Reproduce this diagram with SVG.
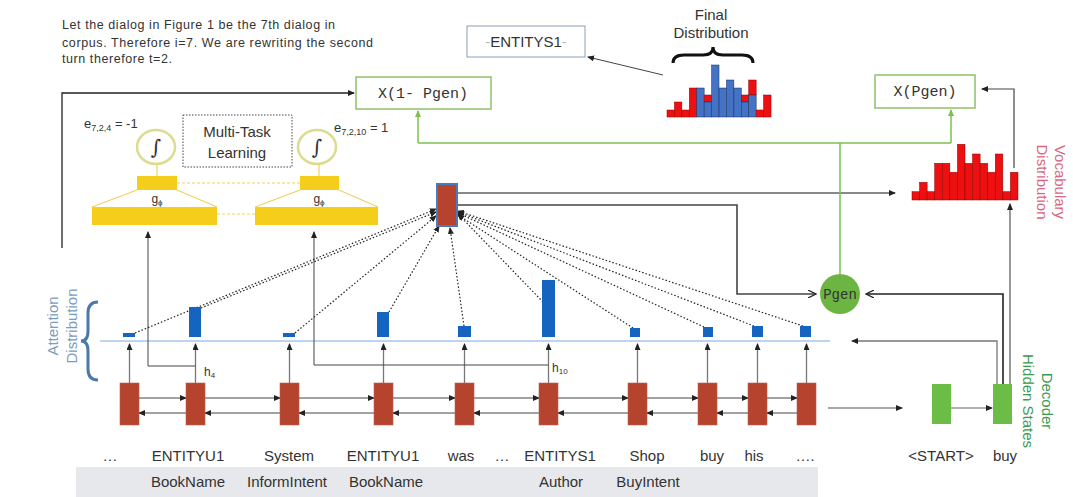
<svg xmlns="http://www.w3.org/2000/svg" width="1073" height="497" viewBox="0 0 1073 497">
<style>
text{font-family:"Liberation Sans",Arial,sans-serif;fill:#333}
.lbl{font-size:15px;text-anchor:middle}
.mono{font-family:"Liberation Mono","Courier New",monospace;font-size:15px;fill:#333;text-anchor:middle}
.enc{fill:#b5432e;stroke:#c0604a;stroke-width:0.6}
.dec{fill:#6cbd45}
.bar{fill:#1565c0}
.ar{stroke:#444;stroke-width:1;fill:none}
.up{stroke:#777;stroke-width:1.3;fill:none}
.dot{stroke:#222;stroke-width:1.2;stroke-dasharray:1.5 2;fill:none}
.grn{stroke:#7cc04f;stroke-width:1.5;fill:none}
.gold{fill:#f5cd1b}
.vr{fill:#ee1010;stroke:#8a0000;stroke-width:0.5}
.vb{fill:#4472c4;stroke:#1a2f60;stroke-width:0.5}
</style>
<defs>
<marker id="ah" markerWidth="7" markerHeight="6" refX="6" refY="3" orient="auto" markerUnits="userSpaceOnUse"><path d="M0,0 L7,3 L0,6 z" fill="#222"/></marker>
<marker id="ahg" markerWidth="7" markerHeight="6" refX="6" refY="3" orient="auto" markerUnits="userSpaceOnUse"><path d="M0,0 L7,3 L0,6 z" fill="#7cc04f"/></marker>
<marker id="ao" markerWidth="9" markerHeight="8" refX="8" refY="4" orient="auto" markerUnits="userSpaceOnUse"><path d="M0,0 L8,4 L0,8" fill="none" stroke="#222" stroke-width="1.2"/></marker>
</defs>

<g id="note">
<text x="62" y="29" font-size="12.5" textLength="273" lengthAdjust="spacing">Let the dialog in Figure 1 be the 7th dialog in</text>
<text x="62" y="47" font-size="12.5" textLength="311" lengthAdjust="spacing">corpus. Therefore i=7. We are rewriting the second</text>
<text x="62" y="63" font-size="12.5" textLength="110" lengthAdjust="spacing">turn therefore t=2.</text>
</g>

<g id="band">
<rect x="76" y="467" width="742" height="30" fill="#e6e8ec"/>
<text class="lbl" x="188" y="487">BookName</text>
<text class="lbl" x="287" y="487">InformIntent</text>
<text class="lbl" x="386" y="487">BookName</text>
<text class="lbl" x="561" y="487">Author</text>
<text class="lbl" x="648" y="487">BuyIntent</text>
</g>

<g id="tokens">
<text class="lbl" x="110" y="461">…</text>
<text class="lbl" x="188" y="461">ENTITYU1</text>
<text class="lbl" x="289" y="461">System</text>
<text class="lbl" x="383" y="461">ENTITYU1</text>
<text class="lbl" x="461" y="461">was</text>
<text class="lbl" x="502" y="461">…</text>
<text class="lbl" x="560" y="461">ENTITYS1</text>
<text class="lbl" x="647" y="461">Shop</text>
<text class="lbl" x="712" y="461">buy</text>
<text class="lbl" x="754" y="461">his</text>
<text class="lbl" x="805" y="461">….</text>
<text class="lbl" x="941" y="461">&lt;START&gt;</text>
<text class="lbl" x="1005" y="461">buy</text>
</g>

<g id="side-labels">
<text class="lbl" transform="translate(58,326) rotate(-90)" style="fill:#7a9cc0">Attention</text>
<text class="lbl" transform="translate(77,326) rotate(-90)" style="fill:#7a9cc0">Distribution</text>
<path d="M98,302 Q88,302 88,313 L88,331 Q88,341 81,341 Q88,341 88,351 L88,369 Q88,380 98,380" fill="none" stroke="#4d79a8" stroke-width="3"/>
<text class="lbl" font-size="16" transform="translate(1042,401) rotate(90)" style="fill:#3a9a50">Decoder</text>
<text class="lbl" font-size="16" transform="translate(1023,401) rotate(90)" style="fill:#3a9a50">Hidden States</text>
<text class="lbl" font-size="16" transform="translate(1055,182) rotate(90)" style="fill:#d9667f">Vocabulary</text>
<text class="lbl" font-size="16" transform="translate(1037,182) rotate(90)" style="fill:#d9667f">Distribution</text>
</g>

<g id="connectors">
<g class="ar" marker-end="url(#ah)">
<line x1="139" y1="398" x2="186" y2="398"/><line x1="205" y1="398" x2="280" y2="398"/><line x1="299" y1="398" x2="374" y2="398"/><line x1="393" y1="398" x2="455" y2="398"/><line x1="474" y1="398" x2="539" y2="398"/><line x1="558" y1="398" x2="628" y2="398"/><line x1="647" y1="398" x2="698" y2="398"/><line x1="717" y1="398" x2="748" y2="398"/><line x1="767" y1="398" x2="797" y2="398"/>
<line x1="186" y1="413" x2="139" y2="413"/><line x1="280" y1="413" x2="205" y2="413"/><line x1="374" y1="413" x2="299" y2="413"/><line x1="455" y1="413" x2="393" y2="413"/><line x1="539" y1="413" x2="474" y2="413"/><line x1="628" y1="413" x2="558" y2="413"/><line x1="698" y1="413" x2="647" y2="413"/><line x1="748" y1="413" x2="717" y2="413"/><line x1="797" y1="413" x2="767" y2="413"/>
</g>
<g class="up" marker-end="url(#ah)">
<line x1="129.5" y1="383" x2="129.5" y2="344"/><line x1="195.5" y1="383" x2="195.5" y2="344"/><line x1="289.5" y1="383" x2="289.5" y2="344"/><line x1="383.5" y1="383" x2="383.5" y2="344"/><line x1="464.5" y1="383" x2="464.5" y2="344"/><line x1="548.5" y1="383" x2="548.5" y2="344"/><line x1="637.5" y1="383" x2="637.5" y2="344"/><line x1="707.5" y1="383" x2="707.5" y2="344"/><line x1="757.5" y1="383" x2="757.5" y2="344"/><line x1="806.5" y1="383" x2="806.5" y2="344"/>
</g>
<line x1="100" y1="341" x2="830" y2="341" stroke="#a9c6ea" stroke-width="1.5"/>
<path d="M195.5,366 L148,366 L148,232" class="ar" marker-end="url(#ah)"/>
<path d="M548.5,365 L314,365 L314,232" class="ar" marker-end="url(#ah)"/>
<path d="M62,248 L62,93 L354,93" stroke="#222" stroke-width="1.3" fill="none" marker-end="url(#ah)"/>
<g class="dot" marker-end="url(#ah)">
<line x1="135" y1="333" x2="436" y2="209"/>
<line x1="201" y1="308" x2="436" y2="212"/>
<line x1="295" y1="333" x2="436" y2="216"/>
<line x1="389" y1="312" x2="439" y2="226"/>
<line x1="464" y1="326" x2="450" y2="228"/>
<line x1="543" y1="302" x2="458" y2="214"/>
<line x1="633" y1="328" x2="458" y2="215"/>
<line x1="704" y1="327" x2="458" y2="213"/>
<line x1="754" y1="326" x2="458" y2="212"/>
<line x1="803" y1="326" x2="458" y2="211"/>
</g>
<line x1="457" y1="193" x2="895" y2="193" stroke="#888" stroke-width="2" marker-end="url(#ah)"/>
<path d="M457,205 L737,205 L737,294 L816,294" stroke="#444" stroke-width="1.6" fill="none" marker-end="url(#ao)"/>
<path d="M840,274 L840,143" class="grn"/>
<line x1="418" y1="143" x2="951" y2="143" class="grn"/>
<line x1="418" y1="143" x2="418" y2="111" class="grn" marker-end="url(#ahg)"/>
<line x1="951" y1="143" x2="951" y2="110" class="grn" marker-end="url(#ahg)"/>
<path d="M1014,168 L1014,89 L982,89" stroke="#444" stroke-width="1.2" fill="none" marker-end="url(#ah)"/>
<path d="M997,384 L997,341 L852,341" stroke="#777" stroke-width="1.3" fill="none" marker-end="url(#ah)"/>
<path d="M1003,384 L1003,294 L866,294" stroke="#222" stroke-width="1.6" fill="none" marker-end="url(#ao)"/>
<line x1="1010" y1="384" x2="1010" y2="204" stroke="#555" stroke-width="1.2" marker-end="url(#ah)"/>
<line x1="828" y1="408" x2="902" y2="408" stroke="#888" stroke-width="1.5" marker-end="url(#ah)"/>
<line x1="951" y1="408" x2="992" y2="408" stroke="#666" stroke-width="1.2" marker-end="url(#ah)"/>
<line x1="663" y1="75" x2="588" y2="57" stroke="#444" stroke-width="1" marker-end="url(#ah)"/>
<line x1="177" y1="183" x2="300" y2="183" stroke="#f0d060" stroke-width="1" stroke-dasharray="3 2"/>
<line x1="217" y1="214" x2="255" y2="214" stroke="#f0d060" stroke-width="1" stroke-dasharray="3 2"/>
</g>

<g id="encoder">
<rect class="enc" x="120" y="383" width="19" height="42"/>
<rect class="enc" x="186" y="383" width="19" height="42"/>
<rect class="enc" x="280" y="383" width="19" height="42"/>
<rect class="enc" x="374" y="383" width="19" height="42"/>
<rect class="enc" x="455" y="383" width="19" height="42"/>
<rect class="enc" x="539" y="383" width="19" height="42"/>
<rect class="enc" x="628" y="383" width="19" height="42"/>
<rect class="enc" x="698" y="383" width="19" height="42"/>
<rect class="enc" x="748" y="383" width="19" height="42"/>
<rect class="enc" x="797" y="383" width="19" height="42"/>
</g>

<g id="attention-bars">
<rect class="bar" x="123" y="333" width="12" height="4"/>
<rect class="bar" x="189" y="307" width="12" height="30"/>
<rect class="bar" x="283" y="333" width="12" height="4"/>
<rect class="bar" x="377" y="312" width="12" height="25"/>
<rect class="bar" x="458" y="326" width="13" height="11"/>
<rect class="bar" x="542" y="280" width="13" height="57"/>
<rect class="bar" x="630" y="328" width="10" height="9"/>
<rect class="bar" x="703" y="327" width="10" height="10"/>
<rect class="bar" x="752" y="326" width="11" height="11"/>
<rect class="bar" x="800" y="326" width="11" height="11"/>
</g>

<g id="hlabels">
<text x="204" y="376" font-size="12">h<tspan font-size="8" dy="2">4</tspan></text>
<text x="552" y="372" font-size="12">h<tspan font-size="8" dy="2">10</tspan></text>
</g>

<g id="context">
<rect x="437" y="184" width="20" height="42" fill="#b5432e" stroke="#4a7ab8" stroke-width="2"/>
</g>

<g id="classifier-left">
<ellipse cx="156" cy="147" rx="19" ry="17" fill="#fff" stroke="#dcdc90" stroke-width="2.5"/>
<text x="156" y="154" font-size="20" text-anchor="middle" font-style="italic" style="font-family:'DejaVu Serif',serif">∫</text>
<line x1="157" y1="164" x2="157" y2="176" stroke="#f0d060" stroke-width="1.2"/>
<rect class="gold" x="137" y="176" width="40" height="14"/>
<path d="M137,190 L92,207 M177,190 L217,207" stroke="#f0d060" stroke-width="1.2"/>
<rect class="gold" x="92" y="207" width="125" height="18"/>
<text x="157" y="203" font-size="12" text-anchor="middle">g<tspan font-size="8" dy="2">ϕ</tspan></text>
<text x="84" y="128" font-size="13">e<tspan font-size="9" dy="3">7,2,4</tspan><tspan dy="-3"> = -1</tspan></text>
</g>

<g id="classifier-right">
<ellipse cx="317" cy="147" rx="19" ry="17" fill="#fff" stroke="#dcdc90" stroke-width="2.5"/>
<text x="317" y="154" font-size="20" text-anchor="middle" font-style="italic" style="font-family:'DejaVu Serif',serif">∫</text>
<line x1="319" y1="164" x2="319" y2="176" stroke="#f0d060" stroke-width="1.2"/>
<rect class="gold" x="300" y="176" width="39" height="14"/>
<path d="M300,190 L255,207 M339,190 L378,207" stroke="#f0d060" stroke-width="1.2"/>
<rect class="gold" x="255" y="207" width="123" height="18"/>
<text x="319" y="203" font-size="12" text-anchor="middle">g<tspan font-size="8" dy="2">ϕ</tspan></text>
<text x="334" y="132" font-size="13">e<tspan font-size="9" dy="3">7,2,10</tspan><tspan dy="-3"> = 1</tspan></text>
</g>

<g id="multitask">
<rect x="183" y="115" width="109" height="52" fill="none" stroke="#444" stroke-width="1" stroke-dasharray="1.5 1.5"/>
<text class="lbl" x="237" y="137">Multi-Task</text>
<text class="lbl" x="237" y="158">Learning</text>
</g>

<g id="x1mpgen">
<rect x="356" y="77" width="135" height="32" fill="#fff" stroke="#8fc06a" stroke-width="1.5"/>
<text class="mono" x="423" y="98">X(1- Pgen)</text>
</g>

<g id="xpgen">
<rect x="875" y="75" width="100" height="33" fill="#fff" stroke="#8fc06a" stroke-width="1.5"/>
<text class="mono" x="925" y="96">X(Pgen)</text>
</g>

<g id="entity">
<rect x="467" y="26" width="118" height="31" fill="#fff" stroke="#8aa0b8" stroke-width="1"/>
<text class="lbl" x="526" y="47"><tspan style="fill:#bbb">-</tspan>ENTITYS1<tspan style="fill:#bbb">-</tspan></text>
</g>

<g id="pgen">
<circle cx="840" cy="294" r="20" fill="#6cb543"/>
<text class="mono" x="840" y="299" style="font-size:14px">Pgen</text>
</g>

<g id="decoder">
<rect class="dec" x="932" y="384" width="19" height="40"/>
<rect class="dec" x="993" y="384" width="19" height="40"/>
</g>

<g id="vocab-dist">
<rect class="vr" x="912" y="191.7" width="7.57" height="8.3"/>
<rect class="vr" x="919.57" y="182.3" width="7.57" height="17.7"/>
<rect class="vr" x="927.14" y="191.7" width="7.57" height="8.3"/>
<rect class="vr" x="934.71" y="163.3" width="7.57" height="36.7"/>
<rect class="vr" x="942.28" y="163.3" width="7.57" height="36.7"/>
<rect class="vr" x="949.85" y="172.3" width="7.57" height="27.7"/>
<rect class="vr" x="957.42" y="144.3" width="7.57" height="55.7"/>
<rect class="vr" x="964.99" y="163.3" width="7.57" height="36.7"/>
<rect class="vr" x="972.56" y="154" width="7.57" height="46"/>
<rect class="vr" x="980.13" y="163.3" width="7.57" height="36.7"/>
<rect class="vr" x="987.7" y="172.3" width="7.57" height="27.7"/>
<rect class="vr" x="995.27" y="154" width="7.57" height="46"/>
<rect class="vr" x="1002.84" y="191.7" width="7.57" height="8.3"/>
<rect class="vr" x="1010.41" y="172.3" width="7.57" height="27.7"/>
</g>

<g id="final-dist">
<text class="lbl" x="711" y="20">Final</text>
<text class="lbl" x="711" y="38">Distribution</text>
<path d="M673,63 Q673,55 684,55 L703,55 Q713,55 713,47 Q713,55 723,55 L742,55 Q753,55 753,63" fill="none" stroke="#111" stroke-width="3"/>
<rect class="vr" x="667" y="110" width="7.43" height="7"/>
<rect class="vr" x="674.43" y="102" width="7.43" height="15"/>
<rect class="vr" x="681.86" y="110" width="7.43" height="7"/>
<rect class="vr" x="689.29" y="88" width="7.43" height="29"/>
<rect class="vb" x="696.72" y="88" width="7.43" height="29"/>
<rect class="vr" x="704.15" y="95" width="7.43" height="7"/>
<rect class="vb" x="704.15" y="102" width="7.43" height="15"/>
<rect class="vb" x="711.58" y="65" width="7.43" height="52"/>
<rect class="vb" x="719.01" y="88" width="7.43" height="29"/>
<rect class="vb" x="726.44" y="80" width="7.43" height="37"/>
<rect class="vb" x="733.87" y="88" width="7.43" height="29"/>
<rect class="vr" x="741.3" y="95" width="7.43" height="7"/>
<rect class="vb" x="741.3" y="102" width="7.43" height="15"/>
<rect class="vr" x="748.73" y="80" width="7.43" height="15"/>
<rect class="vb" x="748.73" y="95" width="7.43" height="22"/>
<rect class="vr" x="756.16" y="110" width="7.43" height="7"/>
<rect class="vr" x="763.59" y="95" width="7.43" height="22"/>
</g>
</svg>
